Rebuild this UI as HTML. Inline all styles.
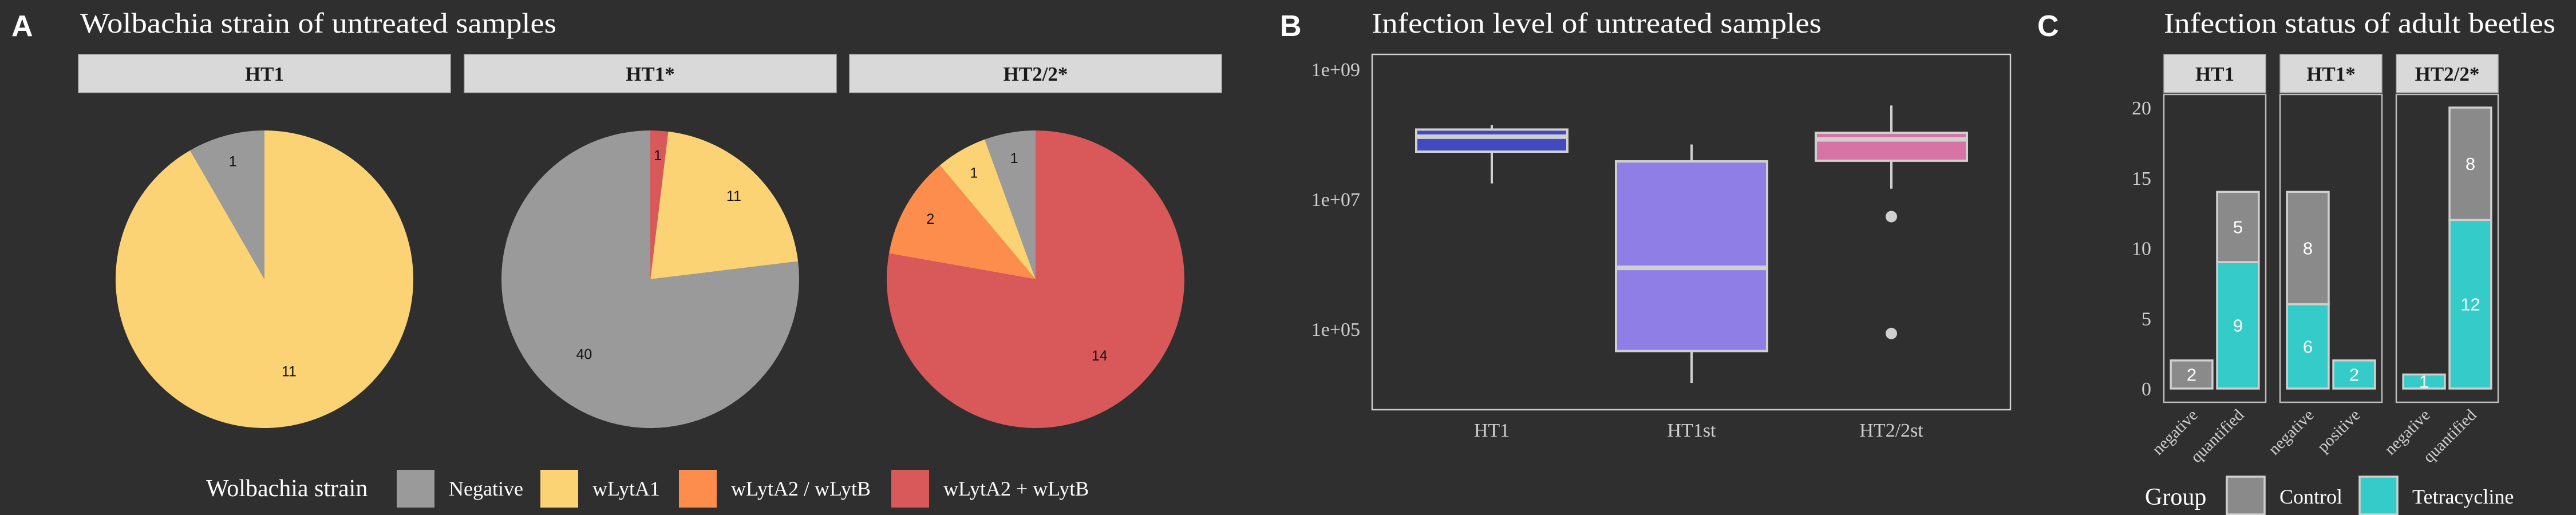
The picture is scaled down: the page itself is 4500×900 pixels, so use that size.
<!DOCTYPE html>
<html><head><meta charset="utf-8"><style>
html,body{margin:0;padding:0;background:#2f2f2f;}
svg{display:block;}
text{font-family:"Liberation Serif",serif;}
.sans{font-family:"Liberation Sans",sans-serif;}
</style></head><body>
<svg id="fig" width="4500" height="900" viewBox="0 0 4500 900" xmlns="http://www.w3.org/2000/svg">
<rect width="4500" height="900" fill="#2f2f2f"/>
<g id="A">
<text x="20" y="63" class="sans" font-size="52" font-weight="bold" fill="#fff">A</text>
<text x="140" y="57" font-size="50" fill="#fff" textLength="832" lengthAdjust="spacingAndGlyphs">Wolbachia strain of untreated samples</text>
</g>
<g id="B">
<text x="2236" y="63" class="sans" font-size="52" font-weight="bold" fill="#fff">B</text>
<text x="2396" y="57" font-size="50" fill="#fff" textLength="786" lengthAdjust="spacingAndGlyphs">Infection level of untreated samples</text>
<rect x="2397" y="95" width="1115" height="621" fill="none" stroke="#cfcfcf" stroke-width="2.5"/>
</g>
<g id="C">
<text x="3559" y="63" class="sans" font-size="52" font-weight="bold" fill="#fff">C</text>
<text x="3780" y="57" font-size="50" fill="#fff" textLength="684" lengthAdjust="spacingAndGlyphs">Infection status of adult beetles</text>
</g>
</svg>
<script>
const NS="http://www.w3.org/2000/svg";
const svg=document.getElementById('fig');
function mk(tag,attrs,parent,txt){const e=document.createElementNS(NS,tag);for(const k in attrs)e.setAttribute(k,attrs[k]);if(txt!==undefined)e.textContent=txt;(parent||svg).appendChild(e);return e;}

// ---------- Panel A data ----------
const pieGroups=["HT1","HT1*","HT2/2*"];
const strains=["Negative","wLytA1","wLytA2 / wLytB","wLytA2 + wLytB"];
const strainColors=["#9a9a9a","#fcd374","#fd8d4c","#d9585a"];
const pieHT1=[1,11,0,0];
const pieHT1s=[40,11,0,1];
const pieHT22=[1,1,2,14];
const pieSeries=[pieHT1,pieHT1s,pieHT22];

const gA=document.getElementById('A');
const stripXA=[137,811,1484], stripW=650;
pieGroups.forEach((g,i)=>{
  const x0=stripXA[i];
  const st=mk('rect',{x:x0,y:95,width:stripW,height:67,fill:'#d9d9d9',stroke:'#aaa','stroke-width':1.5},gA);
  
  
  const t=mk('text',{x:x0+stripW/2,y:141,'font-size':35,'font-weight':'bold','text-anchor':'middle',fill:'#1a1a1a'},gA,g);
  
  
  const cx=x0+stripW/2, cy=488, r=260;
  const vals=pieSeries[i]; const tot=vals.reduce((a,b)=>a+b,0);
  let cum=0;
  vals.forEach((v,k)=>{
    if(v<=0)return;
    const a0=cum/tot*2*Math.PI, a1=(cum+v)/tot*2*Math.PI; cum+=v;
    const p=a=>[cx-r*Math.sin(a), cy-r*Math.cos(a)];
    const [x1,y1]=p(a0),[x2,y2]=p(a1);
    const large=(a1-a0)>Math.PI?1:0;
    let d;
    if(v===tot) d=`M${cx-r},${cy} a${r},${r} 0 1,0 ${2*r},0 a${r},${r} 0 1,0 ${-2*r},0`;
    else d=`M${cx},${cy} L${x1},${y1} A${r},${r} 0 ${large},0 ${x2},${y2} Z`;
    const sl=mk('path',{d:d,fill:strainColors[k]},gA);
    
    
    const am=(a0+a1)/2, lr=r*(0.84-0.22*v/tot);
    const lb=mk('text',{x:cx-lr*Math.sin(am),y:cy-lr*Math.cos(am)+9,'font-size':25,'text-anchor':'middle',fill:'#111',class:'sans'},gA,String(v));
    
    
  });
});
const lgA=mk('text',{x:360,y:867,'font-size':42,fill:'#fff'},gA,'Wolbachia strain');


const keyXA=[693,944,1186,1557];
strains.forEach((s,k)=>{
  const kr=mk('rect',{x:keyXA[k],y:821,width:66,height:66,fill:strainColors[k]},gA);
  
  
  const kt=mk('text',{x:keyXA[k]+91,y:866,'font-size':36,fill:'#fff'},gA,s);
  
  
});

// ---------- Panel B data (log10 values) ----------
const boxCats=["HT1","HT1st","HT2/2st"];
const boxColors=["#4349c0","#8e7ee6","#d873a5"];
const whiskLo=[7.25,4.18,7.17];
const q1=[7.74,4.67,7.60];
const med=[7.97,5.95,7.93];
const q3=[8.08,7.59,8.03];
const whiskHi=[8.15,7.85,8.45];
const outliers=[[],[],[6.74,4.94]];
const yTicksB=[5,7,9];
const yTickLabelsB=["1e+05","1e+07","1e+09"];
const gB=document.getElementById('B');
const yB=L=>349-(L-7)*113.5;
const xB=i=>2606+i*349;
yTicksB.forEach((t,i)=>{
  const tl=mk('text',{x:2376,y:yB(t)+11,'font-size':34,'text-anchor':'end',fill:'#cfcfcf'},gB,yTickLabelsB[i]);
  
  
});
boxCats.forEach((c,i)=>{
  const x=xB(i), hw=132;
  const w=mk('line',{x1:x,x2:x,y1:yB(whiskHi[i]),y2:yB(whiskLo[i]),stroke:'#d0d0d0','stroke-width':4},gB);
  
  
  const b=mk('rect',{x:x-hw,y:yB(q3[i]),width:2*hw,height:yB(q1[i])-yB(q3[i]),fill:boxColors[i],stroke:'#d0d0d0','stroke-width':4},gB);
  
  
  const m=mk('line',{x1:x-hw,x2:x+hw,y1:yB(med[i]),y2:yB(med[i]),stroke:'#d0d0d0','stroke-width':8},gB);
  
  
  outliers[i].forEach(o=>{
    const p=mk('circle',{cx:x,cy:yB(o),r:10,fill:'#d0d0d0'},gB);
    
    
  });
  const xl=mk('text',{x:x,y:763,'font-size':34,'text-anchor':'middle',fill:'#cfcfcf'},gB,c);
  
  
});

// ---------- Panel C data ----------
const barFacets=["HT1","HT1*","HT2/2*"];
const barCats=[["negative","quantified"],["negative","positive"],["negative","quantified"]];
const tetraVals=[[0,9],[6,2],[1,12]];
const controlVals=[[2,5],[8,0],[0,8]];
const groupNames=["Control","Tetracycline"];
const groupColors=["#8a8a8a","#35cbc9"];
const yTicksC=[0,5,10,15,20];
const gC=document.getElementById('C');
const yC=v=>679-v*24.55;
const facetX=[3780,3983,4186], facetW=178;
yTicksC.forEach(t=>{
  const tl=mk('text',{x:3758,y:yC(t)+12,'font-size':34,'text-anchor':'end',fill:'#cfcfcf'},gC,String(t));
  
  
});
barFacets.forEach((f,i)=>{
  const x0=facetX[i];
  const st=mk('rect',{x:x0,y:95,width:facetW,height:67,fill:'#d9d9d9',stroke:'#aaa','stroke-width':1.5},gC);
  
  
  const stt=mk('text',{x:x0+facetW/2,y:141,'font-size':35,'font-weight':'bold','text-anchor':'middle',fill:'#1a1a1a'},gC,f);
  
  
  const pb=mk('rect',{x:x0,y:165,width:facetW,height:538,fill:'none',stroke:'#bdbdbd','stroke-width':2.5},gC);
  
  
  const unit=facetW/2.2;
  barCats[i].forEach((c,j)=>{
    const cx=x0+(j+1-0.4)*unit, bw=0.9*unit;
    const segs=[[tetraVals[i][j],1],[controlVals[i][j],0]];
    let base=0;
    segs.forEach(([v,g])=>{
      if(v<=0)return;
      const r=mk('rect',{x:cx-bw/2,y:yC(base+v),width:bw,height:yC(base)-yC(base+v),fill:groupColors[g],stroke:'#d0d0d0','stroke-width':3.5},gC);
      
      
      const lt=mk('text',{x:cx,y:(yC(base)+yC(base+v))/2+11,'font-size':31,'text-anchor':'middle',fill:'#fff',class:'sans'},gC,String(v));
      
      
      base+=v;
    });
    const xl=mk('text',{x:0,y:0,'font-size':29,'text-anchor':'end',fill:'#cfcfcf',transform:`translate(${cx+12},${727}) rotate(-45)`},gC,c);
    
    
  });
});
const lgC=mk('text',{x:3747,y:882,'font-size':42,fill:'#fff'},gC,'Group');


const keyXC=[3890,4122];
groupNames.forEach((g,k)=>{
  const kr=mk('rect',{x:keyXC[k],y:833,width:66,height:66,fill:groupColors[k],stroke:'#d0d0d0','stroke-width':3.5},gC);
  
  
  const kt=mk('text',{x:keyXC[k]+92,y:880,'font-size':36,fill:'#fff'},gC,g);
  
  
});
</script>
</body></html>
